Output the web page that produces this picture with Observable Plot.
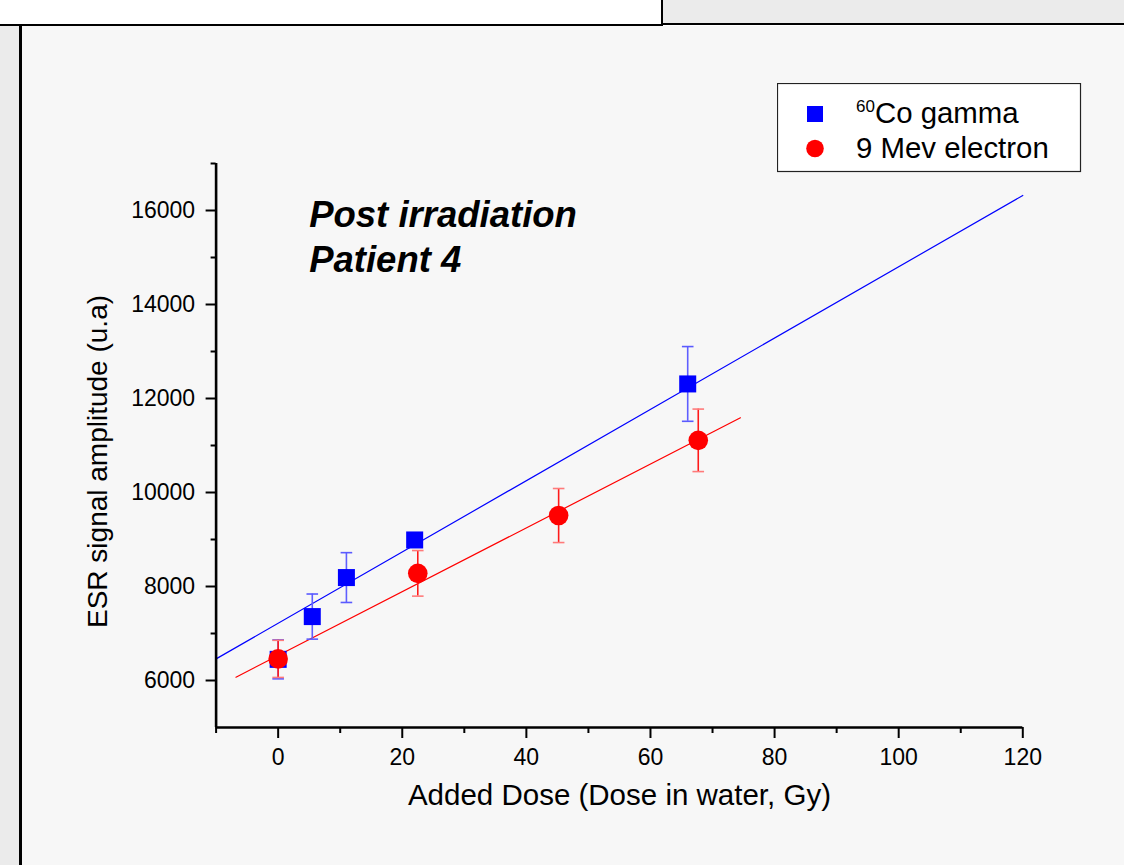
<!DOCTYPE html>
<html>
<head>
<meta charset="utf-8">
<script src="https://cdn.jsdelivr.net/npm/d3@7"></script>
<script src="https://cdn.jsdelivr.net/npm/@observablehq/plot@0.6"></script>
<style>
  html, body { margin: 0; padding: 0; background: #ffffff; }
  #page { position: relative; width: 1124px; height: 865px; overflow: hidden; font-family: "Liberation Sans", Arial, sans-serif; }
  #topLeft { position: absolute; left: 0; top: 0; width: 661px; height: 24px; background: #ffffff; border-right: 2px solid #000; border-bottom: 2px solid #000; }
  #topRight { position: absolute; left: 663px; top: 0; width: 461px; height: 23px; background: #ebebeb; border-bottom: 2px solid #000; }
  #leftStrip { position: absolute; left: 0; top: 26px; width: 19px; height: 839px; background: #ebebeb; border-right: 3px solid #000; }
  #panel { position: absolute; left: 22px; top: 26px; width: 1102px; height: 839px; background: #f7f7f7; }
  #legend { position: absolute; left: 777px; top: 83px; }
</style>
</head>
<body>
<div id="page">
  <div id="topLeft"></div>
  <div id="topRight"></div>
  <div id="leftStrip"></div>
  <div id="panel"></div>
  <div id="legend"></div>
</div>
<script>
// ---- data ----
const gammaDose   = [0, 5.5, 11, 22, 66];
const gammaSignal = [6450, 7360, 8190, 8990, 12310];
const gammaErr    = [415, 480, 530, 140, 795];

const electronDose   = [0, 22.5, 45.2, 67.7];
const electronSignal = [6460, 8280, 9510, 11110];
const electronErr    = [395, 485, 575, 665];

// fitted straight lines (end points)
const gammaFitDose      = [-10, 120];
const gammaFitSignal    = [6460, 16320];
const electronFitDose   = [-6.8, 74.5];
const electronFitSignal = [6070, 11590];

const xMajorTicks = [0, 20, 40, 60, 80, 100, 120];
const xMinorTicks = [-10, 10, 30, 50, 70, 90, 110];
const yMajorTicks = [6000, 8000, 10000, 12000, 14000, 16000];
const yMinorTicks = [7000, 9000, 11000, 13000, 15000, 17000];

const xTitle = "Added Dose (Dose in water, Gy)";
const yTitle = "ESR signal amplitude (u.a)";
const annotText = ["Post irradiation", "Patient 4"];
const annotDose = [5.0, 5.0];
const annotSignal = [15900, 14940];

const legendLabels = [["60", "Co gamma"], ["", "9 Mev electron"]];

// ---- tables ----
const gamma = gammaDose.map((d, i) => ({dose: d, signal: gammaSignal[i], err: gammaErr[i]}));
const electron = electronDose.map((d, i) => ({dose: d, signal: electronSignal[i], err: electronErr[i]}));
const gammaFit = gammaFitDose.map((d, i) => ({dose: d, signal: gammaFitSignal[i]}));
const electronFit = electronFitDose.map((d, i) => ({dose: d, signal: electronFitSignal[i]}));
const annot = annotText.map((t, i) => ({text: t, dose: annotDose[i], signal: annotSignal[i]}));

const capSymbol = {
  draw(ctx, size) {
    const r = Math.sqrt(size / Math.PI);
    ctx.moveTo(-r, 0);
    ctx.lineTo(r, 0);
  }
};

const BLUE = "#0000ff", RED = "#ff0000";
const BLUE_BAR = "#5f5fff", BLUE_CAP = "#5a5aff";
const RED_BAR = "#ff1a1a", RED_CAP = "#ff7a7a";

function errorBars(data, stem, cap) {
  return [
    Plot.ruleX(data, {x: "dose", y1: d => d.signal - d.err, y2: d => d.signal + d.err, stroke: stem, strokeWidth: 1.6}),
    Plot.dot(data, {x: "dose", y: d => d.signal - d.err, symbol: capSymbol, r: 5.8, stroke: cap, strokeWidth: 1.6, fill: "none"}),
    Plot.dot(data, {x: "dose", y: d => d.signal + d.err, symbol: capSymbol, r: 5.8, stroke: cap, strokeWidth: 1.6, fill: "none"})
  ];
}

const chart = Plot.plot({
  width: 1102,
  height: 839,
  marginLeft: 193.6,
  marginRight: 101.7,
  marginTop: 137,
  marginBottom: 138,
  style: {background: "#f7f7f7", fontFamily: "'Liberation Sans', Arial, sans-serif", fontSize: "23px", color: "#000"},
  x: {domain: [-10, 120]},
  y: {domain: [5000, 17000]},
  marks: [
    Plot.line(gammaFit, {x: "dose", y: "signal", stroke: BLUE, strokeWidth: 1.2}),
    Plot.line(electronFit, {x: "dose", y: "signal", stroke: RED, strokeWidth: 1.2}),
    ...errorBars(gamma, BLUE_BAR, BLUE_CAP),
    Plot.dot(gamma, {x: "dose", y: "signal", symbol: "square", r: 9.6, fill: BLUE, stroke: "none"}),
    ...errorBars(electron, RED_BAR, RED_CAP),
    Plot.dot(electron, {x: "dose", y: "signal", symbol: "circle", r: 9.8, fill: RED, stroke: "none"}),
    Plot.axisX({ticks: xMajorTicks, tickSize: 11, tickPadding: 10, tickFormat: d3.format("d"), strokeWidth: 2, fontSize: 23, label: null}),
    Plot.axisX({ticks: xMinorTicks, tickSize: 6, tickFormat: () => "", strokeWidth: 2, label: null}),
    Plot.axisY({ticks: yMajorTicks, tickSize: 10, tickPadding: 11, tickFormat: d3.format("d"), strokeWidth: 2, fontSize: 23, label: null}),
    Plot.axisY({ticks: yMinorTicks, tickSize: 5, tickFormat: () => "", strokeWidth: 2, label: null}),
    Plot.ruleX([-10], {stroke: "#000", strokeWidth: 2.6}),
    Plot.ruleY([5000], {stroke: "#000", strokeWidth: 2.6}),
    Plot.text(annot, {x: "dose", y: "signal", text: "text", textAnchor: "start", lineAnchor: "middle", fontSize: 36.5, fontWeight: "bold", fontStyle: "italic", fill: "#000"}),
    Plot.text([xTitle], {text: d => d, frameAnchor: "bottom", textAnchor: "middle", lineAnchor: "middle", dy: 68, fontSize: 29.5, fill: "#000"}),
    Plot.text([yTitle], {text: d => d, frameAnchor: "left", rotate: -90, textAnchor: "middle", lineAnchor: "middle", dx: -118, dy: 16, fontSize: 28, fill: "#000"})
  ]
});
document.getElementById("panel").appendChild(chart);

// ---- legend ----
const legendSvg = d3.select("#legend").append("svg")
  .attr("width", 305).attr("height", 90)
  .style("display", "block");
legendSvg.append("rect").attr("x", 0.5).attr("y", 0.5).attr("width", 303).attr("height", 88)
  .attr("fill", "#ffffff").attr("stroke", "#222").attr("stroke-width", 1.2);
legendSvg.append("rect").attr("x", 30).attr("y", 23).attr("width", 16).attr("height", 16).attr("fill", BLUE);
legendSvg.append("circle").attr("cx", 38).attr("cy", 65.5).attr("r", 8.8).attr("fill", RED);
legendLabels.forEach(([sup, main], i) => {
  const t = legendSvg.append("text")
    .attr("x", 79).attr("y", i === 0 ? 40 : 75)
    .attr("font-family", "'Liberation Sans', Arial, sans-serif")
    .attr("font-size", 29.4).attr("fill", "#000");
  if (sup) t.append("tspan").attr("font-size", 17).attr("dy", -11).text(sup);
  t.append("tspan").attr("dy", sup ? 11 : 0).text(main);
});
</script>
</body>
</html>
